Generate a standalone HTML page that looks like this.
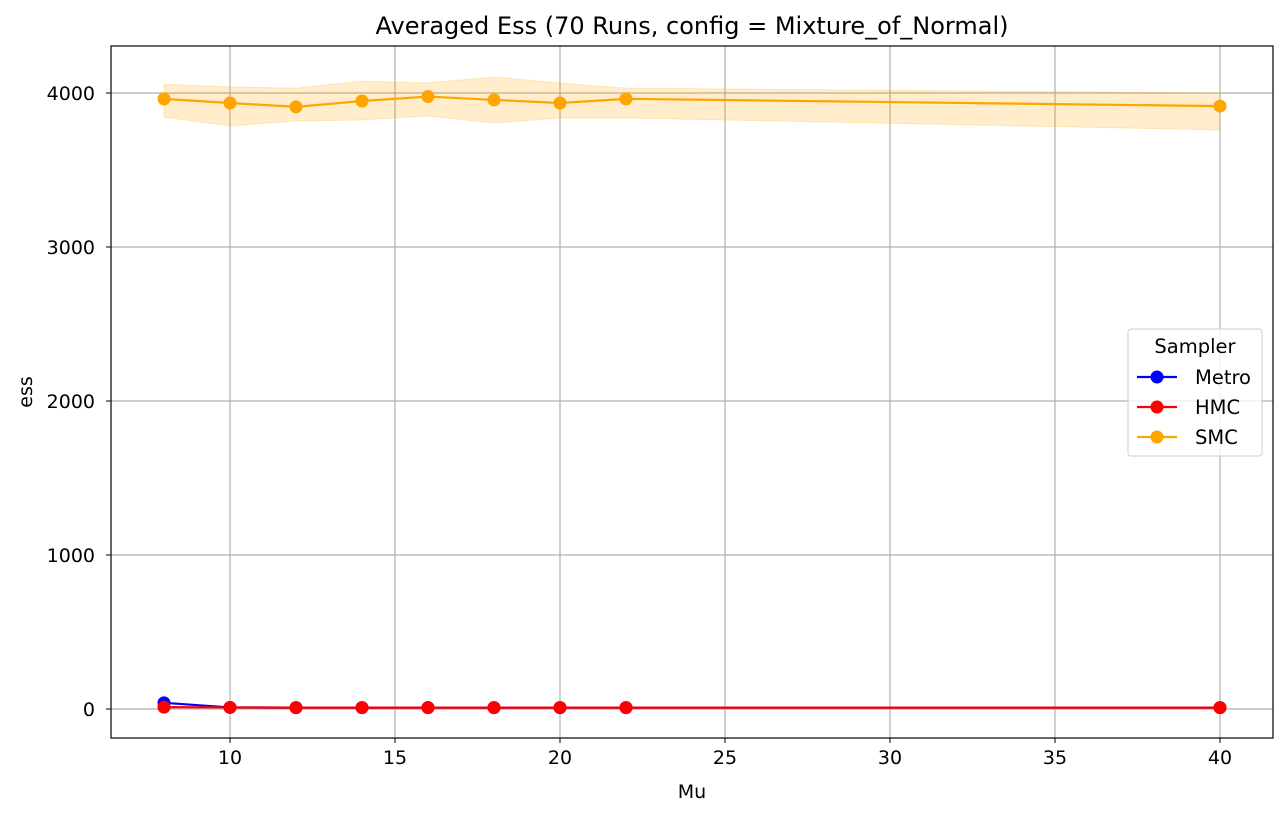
<!DOCTYPE html>
<html><head><meta charset="utf-8"><style>
body{margin:0;background:#fff}
text{font-family:"DejaVu Sans","Liberation Sans",sans-serif;fill:#000}
</style></head><body>
<svg id="chart" width="1288" height="817"></svg>
<script>
const xs=[8,10,12,14,16,18,20,22,40];
const metro=[40,10,9,9,9,9,9,9,9];
const hmc=[12,10,9,9,9,9,9,9,9];
const smc=[3962,3935,3910,3948,3977,3955,3935,3962,3915];
const smcUpper=[4058,4039,4032,4078,4065,4104,4065,4032,4000];
const smcLower=[3844,3786,3818,3825,3851,3805,3838,3838,3760];
const xTicks=[10,15,20,25,30,35,40];
const yTicks=[0,1000,2000,3000,4000];
const L=111,R=1273,T=46,B=738;
const X=v=>230+(v-10)*33;
const Y=v=>709-v*0.154;
const svg=document.getElementById('chart');
const NS='http://www.w3.org/2000/svg';
function mk(tag,attrs,parent){const e=document.createElementNS(NS,tag);for(const k in attrs)e.setAttribute(k,attrs[k]);(parent||svg).appendChild(e);return e;}
const grid=mk('g',{});


xTicks.forEach(t=>{
  mk('line',{x1:X(t),x2:X(t),y1:T,y2:B,stroke:'#b0b0b0','stroke-width':1.2},grid);
  mk('line',{x1:X(t),x2:X(t),y1:B,y2:B+5,stroke:'#000'});
  const tx=mk('text',{x:X(t),y:B+26,'text-anchor':'middle','font-size':19});
  tx.textContent=t;
  
  
});
yTicks.forEach(t=>{
  mk('line',{x1:L,x2:R,y1:Y(t),y2:Y(t),stroke:'#b0b0b0','stroke-width':1.2},grid);
  mk('line',{x1:L-5,x2:L,y1:Y(t),y2:Y(t),stroke:'#000'});
  const tx=mk('text',{x:L-16,y:Y(t)+7,'text-anchor':'end','font-size':19});
  tx.textContent=t;
  
  
});
let pts=xs.map((x,i)=>X(x)+','+Y(smcUpper[i]));
pts=pts.concat(xs.map((x,i)=>X(x)+','+Y(smcLower[i])).reverse());
const band=mk('polygon',{points:pts.join(' '),fill:'#ffa500','fill-opacity':0.2,stroke:'#ffa500','stroke-opacity':0.2});


function series(vals,color,name){
  const g=mk('g',{});
  
  
  mk('polyline',{points:xs.map((x,i)=>X(x)+','+Y(vals[i])).join(' '),fill:'none',stroke:color,'stroke-width':2.2},g);
  xs.forEach((x,i)=>mk('circle',{cx:X(x),cy:Y(vals[i]),r:6.5,fill:color},g));
}
series(metro,'#0000ff','metro-series');
series(hmc,'#ff0000','hmc-series');
series(smc,'#ffa500','smc-series');
mk('rect',{x:L,y:T,width:R-L,height:B-T,fill:'none',stroke:'#000','stroke-width':1.2});
const title=mk('text',{x:692,y:34,'text-anchor':'middle','font-size':24});
title.textContent='Averaged Ess (70 Runs, config = Mixture_of_Normal)';


const xl=mk('text',{x:(L+R)/2,y:798,'text-anchor':'middle','font-size':19});
xl.textContent='Mu';


const yl=mk('text',{x:32,y:392,'text-anchor':'middle','font-size':19,transform:'rotate(-90 32 392)'});
yl.textContent='ess';


const lg=mk('g',{});


mk('rect',{x:1128,y:329,width:134,height:127,rx:3,fill:'#fff','fill-opacity':0.8,stroke:'#ccc'},lg);
const lt=mk('text',{x:1195,y:353,'text-anchor':'middle','font-size':19.5},lg);
lt.textContent='Sampler';
[['Metro','#0000ff'],['HMC','#ff0000'],['SMC','#ffa500']].forEach((e,i)=>{
  const y=377+i*30;
  const eg=mk('g',{},lg);
  
  
  mk('line',{x1:1137,x2:1177,y1:y,y2:y,stroke:e[1],'stroke-width':2.2},eg);
  mk('circle',{cx:1157,cy:y,r:6.5,fill:e[1]},eg);
  const t=mk('text',{x:1195,y:y+7,'font-size':19.5},eg);
  t.textContent=e[0];
});
</script>
</body></html>
